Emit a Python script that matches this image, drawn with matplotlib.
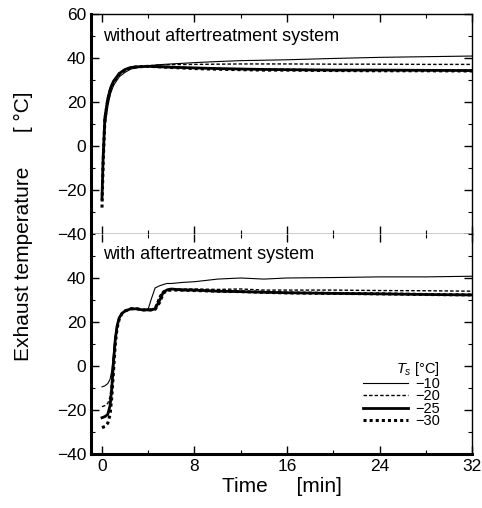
import matplotlib
matplotlib.use('Agg')
import matplotlib.pyplot as plt
from matplotlib.ticker import MultipleLocator

plt.rcParams['font.family'] = ['Liberation Sans', 'DejaVu Sans']
plt.rcParams['mathtext.fontset'] = 'custom'
plt.rcParams['mathtext.it'] = 'Liberation Sans:italic'
plt.rcParams['mathtext.rm'] = 'Liberation Sans'

# 上图：无后处理系统
t_up = [0, 0.1, 0.25, 0.5, 0.75, 1.0, 1.5, 2.0, 2.5, 3.0, 4.0, 5, 6, 8, 10, 12, 14, 16, 20, 24, 28, 32]
up_m10 = [-20, -8, 8, 18, 24, 27.5, 31.5, 33.5, 35, 35.5, 36.5, 37, 37.3, 37.9, 38.4, 38.8, 39, 39.2, 39.8, 40.3, 40.6, 40.9]
up_m20 = [-22, -6, 12, 21, 26, 29, 32.5, 34.5, 35.5, 36, 36.5, 36.8, 37, 37.1, 37.2, 37.3, 37.3, 37.3, 37.2, 37.2, 37.1, 37.1]
up_m25 = [-24, -5, 13, 21.5, 26.5, 29.5, 33, 34.8, 35.7, 36, 36.2, 36, 35.8, 35.5, 35.2, 35, 34.8, 34.7, 34.5, 34.5, 34.4, 34.3]
up_m30 = [-28, -8, 12, 21, 26, 29, 32.8, 34.6, 35.5, 36, 36.2, 36, 35.7, 35.2, 34.9, 34.7, 34.5, 34.5, 34.3, 34.2, 34.2, 34.1]

# 下图：有后处理系统
t_low = [0, 0.25, 0.5, 0.7, 0.85, 1.0, 1.15, 1.3, 1.5, 1.75, 2.0, 2.5, 3.0, 3.5, 4.0, 4.3, 4.6, 5.0, 5.3, 5.6, 6, 7, 8, 10, 12, 14, 16, 20, 24, 28, 32]
low_m10 = [-9.5, -9, -8, -6, -2, 6, 14, 19, 22, 24, 25, 26, 26, 25.5, 26, 31, 35.5, 36.5, 37, 37.5, 37.5, 38, 38.3, 39.5, 40, 39.5, 40, 40.2, 40.5, 40.5, 40.8]
low_m20 = [-18.5, -18, -17, -14, -6, 4, 13, 18.5, 22, 24, 25, 26, 26, 25.5, 25.5, 25.8, 27, 32, 34, 34.8, 35, 35, 35, 34.8, 35, 34.5, 34.5, 34.5, 34.3, 34.2, 34]
low_m25 = [-23.5, -23, -22, -18, -10, 2, 12, 18, 22, 24, 25, 26, 26, 25.5, 25.5, 25.5, 26, 30, 33.5, 34.5, 35, 34.5, 34.5, 34, 33.8, 33.5, 33.3, 33, 32.8, 32.5, 32.3]
low_m30 = [-28, -27.5, -26, -22, -14, -2, 10, 17, 21.5, 24, 25, 26, 26, 25.5, 25.5, 25.5, 25.8, 29, 33, 34.3, 34.5, 34.5, 34.3, 34, 33.8, 33.5, 33.2, 33, 32.8, 32.5, 32.3]

labels = ['\u221210', '\u221220', '\u221225', '\u221230']
styles = [dict(ls='-', lw=0.8), dict(ls=(0, (2.5, 1.5)), lw=1.0),
          dict(ls='-', lw=2.0), dict(ls=(0, (1, 1)), lw=2.2)]

fig = plt.figure(figsize=(4.82, 5.08), dpi=100)
ax1 = fig.add_axes([0.1888, 0.5394, 0.7905, 0.4330])
ax2 = fig.add_axes([0.1888, 0.1063, 0.7905, 0.4331])

for ax, t, series in [(ax1, t_up, [up_m10, up_m20, up_m25, up_m30]),
                      (ax2, t_low, [low_m10, low_m20, low_m25, low_m30])]:
    for y, st, lab in zip(series, styles, labels):
        ax.plot(t, y, color='black', label=lab, **st)
    ax.set_xlim(-0.95, 32)
    ax.set_ylim(-40, 60)
    ax.xaxis.set_major_locator(MultipleLocator(8))
    ax.xaxis.set_minor_locator(MultipleLocator(4))
    ax.yaxis.set_minor_locator(MultipleLocator(10))
    ax.tick_params(which='both', direction='in', top=True, right=True, labelsize=12.5)
    ax.tick_params(which='major', length=6, width=1)
    ax.tick_params(which='minor', length=3, width=0.8)
    for s in ['top', 'right', 'bottom']:
        ax.spines[s].set_linewidth(1.0)
    ax.spines['left'].set_linewidth(2.2)

ax1.set_yticks([-40, -20, 0, 20, 40, 60])
ax1.tick_params(labelbottom=False)
ax2.set_yticks([-40, -20, 0, 20, 40])
ax2.spines['bottom'].set_linewidth(2.2)
ax2.spines['top'].set_visible(False)

ax1.text(0.031, 0.9, 'without aftertreatment system', transform=ax1.transAxes,
         fontsize=13, va='center', ha='left')
ax2.text(0.031, 0.905, 'with aftertreatment system', transform=ax2.transAxes,
         fontsize=13, va='center', ha='left')

leg = ax2.legend(loc='upper right', bbox_to_anchor=(0.935, 0.46), frameon=False,
                 fontsize=10.5, title='$T_s$ [°C]', title_fontsize=10.5,
                 handlelength=3.1, handletextpad=0.5, labelspacing=-0.1,
                 borderpad=0, alignment='right')

ax2.set_xlabel('Time     [min]', fontsize=15, labelpad=2)
fig.text(0.048, 0.555, 'Exhaust temperature      [ °C]', rotation=90,
         fontsize=15, ha='center', va='center')

fig.savefig('out.png', dpi=100)
